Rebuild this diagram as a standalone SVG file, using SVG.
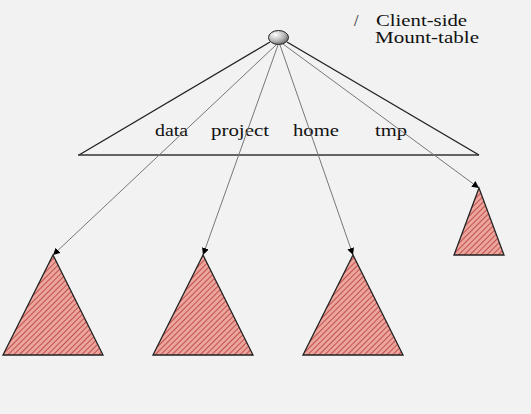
<svg xmlns="http://www.w3.org/2000/svg" width="531" height="414" viewBox="0 0 531 414">
<defs>
<style>
.lbl{font-family:"Liberation Serif","Times New Roman",serif;font-size:16px;fill:#111}
.edge{stroke:#777;stroke-width:1;fill:none}
.tree{fill:url(#hatch);stroke:#222;stroke-width:1.3}
.mt{fill:none;stroke:#222;stroke-width:1.4}
</style>
<pattern id="hatch" patternUnits="userSpaceOnUse" width="4" height="4" patternTransform="rotate(45)">
<rect width="4" height="4" fill="#eba59d"/>
<line x1="0" y1="0" x2="0" y2="4" stroke="#c0504d" stroke-width="2"/>
</pattern>
<radialGradient id="ball" cx="0.35" cy="0.3" r="0.8">
<stop offset="0" stop-color="#ffffff"/>
<stop offset="0.6" stop-color="#b0b0b0"/>
<stop offset="1" stop-color="#555"/>
</radialGradient>
<marker id="arr" viewBox="0 0 10 10" refX="10" refY="5" markerWidth="7" markerHeight="7" orient="auto" markerUnits="userSpaceOnUse">
<path d="M0,0 L10,5 L0,10 z" fill="#000"/>
</marker>
</defs>
<rect width="531" height="414" fill="#f2f2f2"/>
<g id="mount-table">
<polyline class="mt" points="79,155 270,42"/>
<polyline class="mt" points="287,42 479,155"/>
<line x1="78" y1="155" x2="479" y2="155" stroke="#333" stroke-width="1.6"/>
<text class="lbl" x="155" y="136" textLength="33" lengthAdjust="spacingAndGlyphs">data</text>
<text class="lbl" x="211" y="136" textLength="58" lengthAdjust="spacingAndGlyphs">project</text>
<text class="lbl" x="293" y="136" textLength="46" lengthAdjust="spacingAndGlyphs">home</text>
<text class="lbl" x="375" y="136" textLength="32" lengthAdjust="spacingAndGlyphs">tmp</text>
</g>
<g id="caption">
<text class="lbl" x="354" y="26">/</text>
<text class="lbl" x="376" y="26" textLength="91" lengthAdjust="spacingAndGlyphs">Client-side</text>
<text class="lbl" x="375" y="43" textLength="104" lengthAdjust="spacingAndGlyphs">Mount-table</text>
</g>
<g id="connectors">
<line class="edge" x1="276" y1="45" x2="53" y2="255" marker-end="url(#arr)"/>
<line class="edge" x1="278" y1="45" x2="203" y2="255" marker-end="url(#arr)"/>
<line class="edge" x1="280" y1="45" x2="353" y2="255" marker-end="url(#arr)"/>
<line class="edge" x1="283" y1="44" x2="479" y2="188" marker-end="url(#arr)"/>
</g>
<g id="root">
<ellipse cx="278.5" cy="37.5" rx="10" ry="7" fill="url(#ball)" stroke="#222" stroke-width="1"/>
</g>
<g id="tree-data"><polygon class="tree" points="53,255 3,355 103,355"/></g>
<g id="tree-project"><polygon class="tree" points="203,255 153,355 253,355"/></g>
<g id="tree-home"><polygon class="tree" points="353,255 303,355 403,355"/></g>
<g id="tree-tmp"><polygon class="tree" points="479,188 454,255 504,255"/></g>
</svg>
